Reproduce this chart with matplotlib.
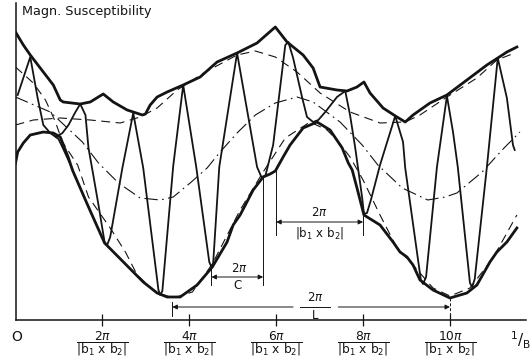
import matplotlib.pyplot as plt

plt.rcParams['font.family'] = 'DejaVu Sans'
plt.rcParams['mathtext.fontset'] = 'dejavusans'

# x in units of pi/|b1 x b2|, y in arbitrary susceptibility units

# upper envelope (thick)
upper_x = [0.00, 0.18, 0.34, 0.64, 0.87, 1.03, 1.10, 1.49, 1.72, 2.02, 2.25, 2.57, 2.92, 2.99,
           3.10, 3.26, 3.49, 3.86, 4.25, 4.64, 5.10, 5.56, 5.98, 6.25, 6.62, 6.85, 7.01, 7.40,
           7.63, 7.86, 8.02, 8.16, 8.46, 8.78, 8.97, 9.15, 9.54, 9.93, 10.39, 10.85, 11.10,
           11.31, 11.54]
upper_y = [2.88, 2.75, 2.65, 2.48, 2.35, 2.20, 2.18, 2.16, 2.18, 2.26, 2.18, 2.10, 2.05, 2.06,
           2.15, 2.23, 2.28, 2.35, 2.43, 2.58, 2.67, 2.77, 2.93, 2.78, 2.65, 2.52, 2.33, 2.30,
           2.29, 2.33, 2.38, 2.27, 2.12, 2.03, 1.98, 2.05, 2.17, 2.25, 2.40, 2.55, 2.62,
           2.68, 2.73]

# lower envelope (thick)
lower_x = [0.00, 0.05, 0.18, 0.34, 0.64, 0.87, 1.03, 1.22, 1.31, 1.66, 2.05, 2.94, 3.26, 3.49,
           3.79, 4.18, 4.53, 4.87, 5.01, 5.17, 5.47, 5.70, 5.86, 5.98, 6.16, 6.32, 6.62, 6.94,
           7.24, 7.52, 7.66, 7.75, 7.86, 8.02, 8.39, 8.69, 8.85, 9.01, 9.15, 9.31, 9.61, 10.00,
           10.39, 10.62, 10.92, 11.08, 11.31, 11.54]
lower_y = [1.57, 1.68, 1.77, 1.85, 1.88, 1.87, 1.83, 1.62, 1.50, 1.15, 0.77, 0.38, 0.27, 0.23,
           0.23, 0.35, 0.53, 0.78, 0.95, 1.05, 1.30, 1.43, 1.46, 1.49, 1.63, 1.75, 1.92, 1.98,
           1.90, 1.72, 1.57, 1.50, 1.32, 1.05, 0.95, 0.78, 0.68, 0.63, 0.55, 0.40, 0.30, 0.22,
           0.27, 0.35, 0.58, 0.68, 0.78, 0.92]

# oscillating susceptibility, first branch near the origin
osc_a_x = [0.05, 0.34, 0.51, 0.64, 0.80, 0.99, 1.10, 1.31]
osc_a_y = [2.25, 2.63, 2.22, 1.95, 1.87, 1.81, 1.71, 1.51]

# oscillating susceptibility, main branch
osc_x = [0.94, 1.08, 1.22, 1.38, 1.49, 1.61, 1.68, 1.77, 1.91, 2.05, 2.11, 2.18, 2.46, 2.71,
         2.94, 3.29, 3.33, 3.38, 3.63, 3.86, 4.16, 4.46, 4.51, 4.55, 4.69, 5.10, 5.56, 5.66,
         5.75, 5.93, 6.21, 6.28, 6.39, 6.60, 6.71, 6.85, 6.97, 7.13, 7.40, 7.59, 7.70, 7.82,
         7.89, 7.98, 8.02, 8.09, 8.18, 8.39, 8.74, 8.92, 8.97, 9.33, 9.38, 9.45, 9.70, 9.93,
         10.07, 10.18, 10.46, 10.51, 10.57, 10.85, 11.10, 11.31, 11.45, 11.49]
osc_y = [1.83, 1.87, 1.95, 2.08, 2.16, 2.05, 1.72, 1.50, 1.15, 0.78, 0.75, 0.83, 1.52, 2.07,
         1.52, 0.30, 0.25, 0.29, 1.54, 2.35, 1.53, 0.58, 0.53, 0.57, 1.53, 2.67, 1.53, 1.43,
         1.44, 1.75, 2.75, 2.78, 2.62, 2.22, 2.03, 1.98, 2.00, 2.08, 2.23, 2.29, 2.05, 1.72,
         1.50, 1.22, 1.06, 1.07, 1.20, 1.55, 2.04, 1.78, 1.52, 0.40, 0.36, 0.43, 1.53, 2.24,
         1.88, 1.53, 0.37, 0.33, 0.41, 1.53, 2.62, 2.22, 1.75, 1.70]

# dash-dot component
dashdot_x = [0.00, 0.80, 1.54, 1.91, 2.37, 2.87, 3.33, 3.63, 4.02, 4.41, 4.71, 5.10, 5.52,
             5.98, 6.48, 6.85, 7.47, 7.98, 8.34, 8.90, 9.49, 9.89, 10.16, 10.74, 11.20, 11.61]
dashdot_y = [2.23, 2.08, 1.78, 1.57, 1.37, 1.22, 1.20, 1.23, 1.37, 1.52, 1.68, 1.87, 2.05,
             2.17, 2.23, 2.18, 1.98, 1.75, 1.55, 1.32, 1.20, 1.23, 1.27, 1.48, 1.70, 1.88]

# dashed components
dash1_x = [0.00, 0.41, 1.03, 1.72, 2.41, 2.87, 3.26, 3.72, 4.37, 5.10, 5.52, 5.98, 6.48, 7.01,
           7.70, 8.39, 8.97, 9.31, 9.93, 10.62, 11.08, 11.49]
dash1_y = [1.95, 2.00, 2.02, 2.00, 1.97, 2.03, 2.12, 2.30, 2.48, 2.65, 2.69, 2.63, 2.48, 2.27,
           2.08, 1.97, 1.98, 2.05, 2.23, 2.42, 2.60, 2.67]

dash2_x = [0.00, 0.41, 0.69, 0.92, 1.08, 1.43, 1.68, 2.18, 2.53, 2.80, 3.22, 3.63, 4.07, 4.53,
           5.17, 5.70, 6.21, 6.78, 7.17, 7.40, 7.70, 8.00, 8.39, 8.78, 9.15, 9.61, 10.00,
           10.46, 10.99, 11.54]
dash2_y = [2.53, 2.37, 2.20, 1.98, 1.78, 1.55, 1.23, 0.92, 0.68, 0.45, 0.28, 0.22, 0.28, 0.56,
           1.10, 1.48, 1.82, 1.98, 1.90, 1.80, 1.63, 1.40, 1.05, 0.72, 0.55, 0.32, 0.24,
           0.32, 0.62, 1.05]

tick_pos = [2, 4, 6, 8, 10]
tick_num = ['2\\pi', '4\\pi', '6\\pi', '8\\pi', '10\\pi']
den = r'|\mathrm{b_1\ x\ b_2}|'

ink = '#141414'

fig = plt.figure(figsize=(5.32, 3.64), dpi=100)
ax = fig.add_axes([15.5 / 532, 44 / 364, 510.5 / 532, 317 / 364])
ax.set_xlim(0, 11.75)
ax.set_ylim(0, 3.17)

for s in ['top', 'right']:
    ax.spines[s].set_visible(False)
for s in ['left', 'bottom']:
    ax.spines[s].set_linewidth(1.1)
    ax.spines[s].set_color(ink)
ax.set_yticks([])
ax.set_xticks(tick_pos)
ax.set_xticklabels([])
ax.tick_params(axis='x', direction='inout', length=8, width=0.9, color=ink)

# curves
ax.plot(dash1_x, dash1_y, color=ink, lw=0.8, ls=(0, (8, 5)))
ax.plot(dash2_x, dash2_y, color=ink, lw=0.8, ls=(0, (8, 5)))
ax.plot(dashdot_x, dashdot_y, color=ink, lw=0.8, ls=(0, (12, 4, 1.5, 4)))
ax.plot(osc_a_x, osc_a_y, color=ink, lw=1.3)
ax.plot(osc_x, osc_y, color=ink, lw=1.3)
ax.plot(upper_x, upper_y, color=ink, lw=2.0)
ax.plot(lower_x, lower_y, color=ink, lw=2.0)

# dimension lines
arr = dict(arrowstyle='-|>', lw=0.7, color=ink, mutation_scale=7, shrinkA=0, shrinkB=0)
arr2 = dict(arrowstyle='<|-|>', lw=0.7, color=ink, mutation_scale=7, shrinkA=0, shrinkB=0)

# 2pi/|b1 x b2|
ax.plot([6, 6], [1.50, 0.85], color=ink, lw=0.7)
ax.plot([8, 8], [1.04, 0.85], color=ink, lw=0.7)
ax.annotate('', xy=(6, 0.98), xytext=(8, 0.98), arrowprops=arr2)
ax.text(7.0, 1.01, r'$2\pi$', ha='center', va='bottom', fontsize=8.5, color=ink)
ax.text(7.0, 0.95, '$' + den + '$', ha='center', va='top', fontsize=8.5, color=ink)

# 2pi/C
ax.plot([4.51, 4.51], [0.55, 0.35], color=ink, lw=0.7)
ax.plot([5.70, 5.70], [1.42, 0.35], color=ink, lw=0.7)
ax.annotate('', xy=(4.51, 0.43), xytext=(5.70, 0.43), arrowprops=arr2)
ax.text(5.15, 0.45, r'$2\pi$', ha='center', va='bottom', fontsize=8.5, color=ink,
        bbox=dict(fc='white', ec='none', pad=0.3))
ax.text(5.10, 0.41, 'C', ha='center', va='top', fontsize=8.5, color=ink)

# 2pi/L
ax.plot([3.61, 3.61], [0.18, 0.04], color=ink, lw=0.7)
ax.plot([10, 10], [0.22, 0.0], color=ink, lw=0.7, ls=(0, (3, 2)))
ax.annotate('', xy=(3.61, 0.13), xytext=(6.39, 0.13), arrowprops=arr)
ax.annotate('', xy=(10.0, 0.13), xytext=(7.43, 0.13), arrowprops=arr)
ax.text(6.90, 0.16, r'$2\pi$', ha='center', va='bottom', fontsize=8.5, color=ink)
ax.plot([6.55, 7.25], [0.13, 0.13], color=ink, lw=0.7)
ax.text(6.90, 0.11, 'L', ha='center', va='top', fontsize=8.5, color=ink)

# axis labels
for t, n in zip(tick_pos, tick_num):
    ax.text(t, -0.235, r'$\dfrac{' + n + '}{' + den + '}$', ha='center', va='center',
            fontsize=8.8, color=ink, clip_on=False)
ax.text(0.02, -0.17, 'O', ha='center', va='center', fontsize=10, color=ink, clip_on=False)
ax.text(11.63, -0.20, r'${}^{1}/_{\mathrm{B}}$', ha='center', va='center', fontsize=11,
        color=ink, clip_on=False)
fig.text(22 / 532, 1 - 12 / 364, 'Magn. Susceptibility', ha='left', va='center',
         fontsize=9.2, color=ink)

fig.savefig('out.png', dpi=100)
